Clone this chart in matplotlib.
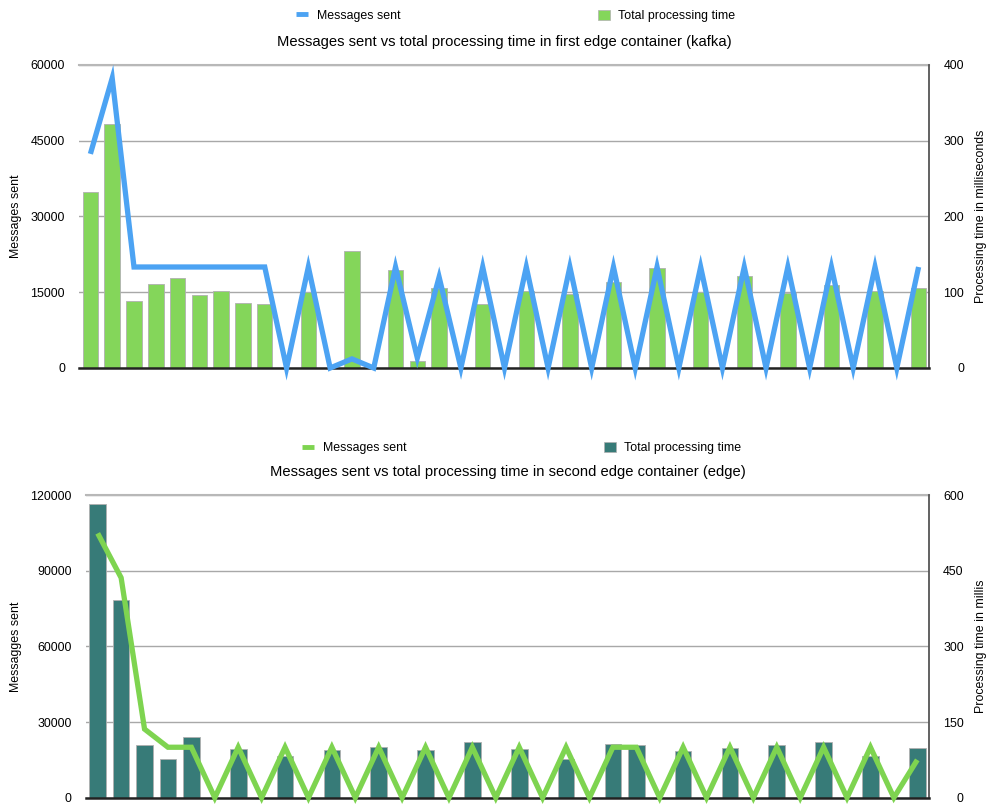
import numpy as np
import matplotlib
matplotlib.use("Agg")
from matplotlib import pyplot as plt
from matplotlib.lines import Line2D
from matplotlib.patches import Patch

plt.rcParams['font.family'] = ['Liberation Sans', 'DejaVu Sans']

# first edge container (kafka)
kafka_msgs = [42400, 57400, 20000, 20000, 20000, 20000, 20000, 20000, 20000, 0,
              20000, 0, 1800, 0, 20000, 2000, 18000, 0, 20000, 0,
              20000, 0, 20000, 0, 20000, 0, 20000, 0, 20000, 0,
              20000, 0, 20000, 0, 20000, 0, 20000, 0, 20000]
kafka_time = [233, 322, 89, 111, 119, 97, 102, 86, 85, 0,
              100, 0, 155, 0, 129, 9, 105, 0, 84, 0,
              101, 0, 98, 0, 114, 0, 132, 0, 100, 0,
              121, 0, 99, 0, 109, 0, 102, 0, 106]

# second edge container (edge)
edge_msgs = [104800, 87200, 27200, 20000, 20000, 0, 20000, 0, 20000, 0,
             20000, 0, 20000, 0, 20000, 0, 20000, 0, 20000, 0,
             20000, 0, 20000, 20000, 0, 20000, 0, 20000, 0, 20000,
             0, 20000, 0, 20000, 0, 15000]
edge_time = [582, 392, 104, 76, 121, 0, 96, 0, 83, 0,
             94, 0, 101, 0, 94, 0, 110, 0, 96, 0,
             77, 0, 106, 104, 0, 92, 0, 99, 0, 104,
             0, 110, 0, 83, 0, 99]

W, H = 987, 806
fig = plt.figure(figsize=(W / 100, H / 100), dpi=100)

FS = 8.9
TITLE_FS = 10.6


def panel(rect, msgs, times, line_color, bar_color, msg_ticks, time_ticks,
          title, ylab_left, ylab_right, leg_xy, lab_left_x, lab_right_x):
    x = np.arange(len(msgs))
    axb = fig.add_axes(rect)          # bars, right scale
    axl = axb.twinx()                 # line, left scale
    axb.yaxis.tick_right()
    axl.yaxis.tick_left()
    axl.yaxis.set_label_position('left')
    axb.yaxis.set_label_position('right')
    axl.set_zorder(axb.get_zorder() + 1)
    axl.patch.set_visible(False)

    axb.bar(x, times, width=0.71, color=bar_color, edgecolor='#b0b0b0', linewidth=0.6)
    axl.plot(x, msgs, color=line_color, lw=3.8, solid_joinstyle='miter',
             solid_capstyle='butt', clip_on=False, zorder=3)

    axb.set_xlim(-0.5, len(msgs) - 0.5)
    axl.set_xlim(-0.5, len(msgs) - 0.5)
    axb.set_ylim(0, time_ticks[-1])
    axl.set_ylim(0, msg_ticks[-1])
    axb.set_yticks(time_ticks)
    axl.set_yticks(msg_ticks)
    axb.set_xticks([])
    axl.set_xticks([])

    axb.grid(axis='y', color='#a8a8a8', lw=1.0)
    axb.set_axisbelow(True)

    for s in ['left', 'right', 'bottom']:
        axb.spines[s].set_visible(False)
    axb.spines['top'].set_color('#b8b8b8')
    axb.spines['top'].set_linewidth(1.5)
    axl.spines['left'].set_visible(False)
    axl.spines['top'].set_visible(False)
    axl.spines['right'].set_color('#555555')
    axl.spines['right'].set_linewidth(1.3)
    axl.spines['bottom'].set_color('#222222')
    axl.spines['bottom'].set_linewidth(1.8)

    axl.tick_params(axis='y', length=0, pad=10.5, labelsize=FS)
    axb.tick_params(axis='y', length=0, pad=25, labelsize=FS)
    for t in axb.get_yticklabels():
        t.set_horizontalalignment('right')

    axl.set_ylabel(ylab_left, fontsize=FS)
    axb.set_ylabel(ylab_right, fontsize=FS)
    axl.yaxis.set_label_coords(lab_left_x, 0.5)
    axb.yaxis.set_label_coords(lab_right_x, 0.5)

    axl.text(0.5, 1.076, title, transform=axl.transAxes, ha='center',
             va='center', fontsize=TITLE_FS)

    handles = [Line2D([], [], color=line_color, lw=3.5, solid_capstyle='butt'),
               Patch(facecolor=bar_color, edgecolor='#b0b0b0', linewidth=0.5)]
    fig.legend(handles, ['Messages sent', 'Total processing time'], loc='center',
               bbox_to_anchor=leg_xy, ncol=2, frameon=False, fontsize=FS,
               handlelength=0.95, handleheight=0.95, handletextpad=0.7,
               columnspacing=16.0)


panel([79.5 / W, 1 - 368 / H, 850 / W, 303 / H], kafka_msgs, kafka_time,
      '#4ca3f3', '#84d65a', [0, 15000, 30000, 45000, 60000], [0, 100, 200, 300, 400],
      'Messages sent vs total processing time in first edge container (kafka)',
      'Messages sent', 'Processing time in milliseconds',
      (516 / W, 1 - 16 / H), -0.0676, 1.0535)

panel([86 / W, 1 - 797.7 / H, 843 / W, 302.7 / H], edge_msgs, edge_time,
      '#7ed450', '#377b78', [0, 30000, 60000, 90000, 120000], [0, 150, 300, 450, 600],
      'Messages sent vs total processing time in second edge container (edge)',
      'Messagges sent', 'Processing time in millis',
      (522 / W, 1 - 448 / H), -0.0756, 1.0546)

plt.savefig("out.png", dpi=100)
